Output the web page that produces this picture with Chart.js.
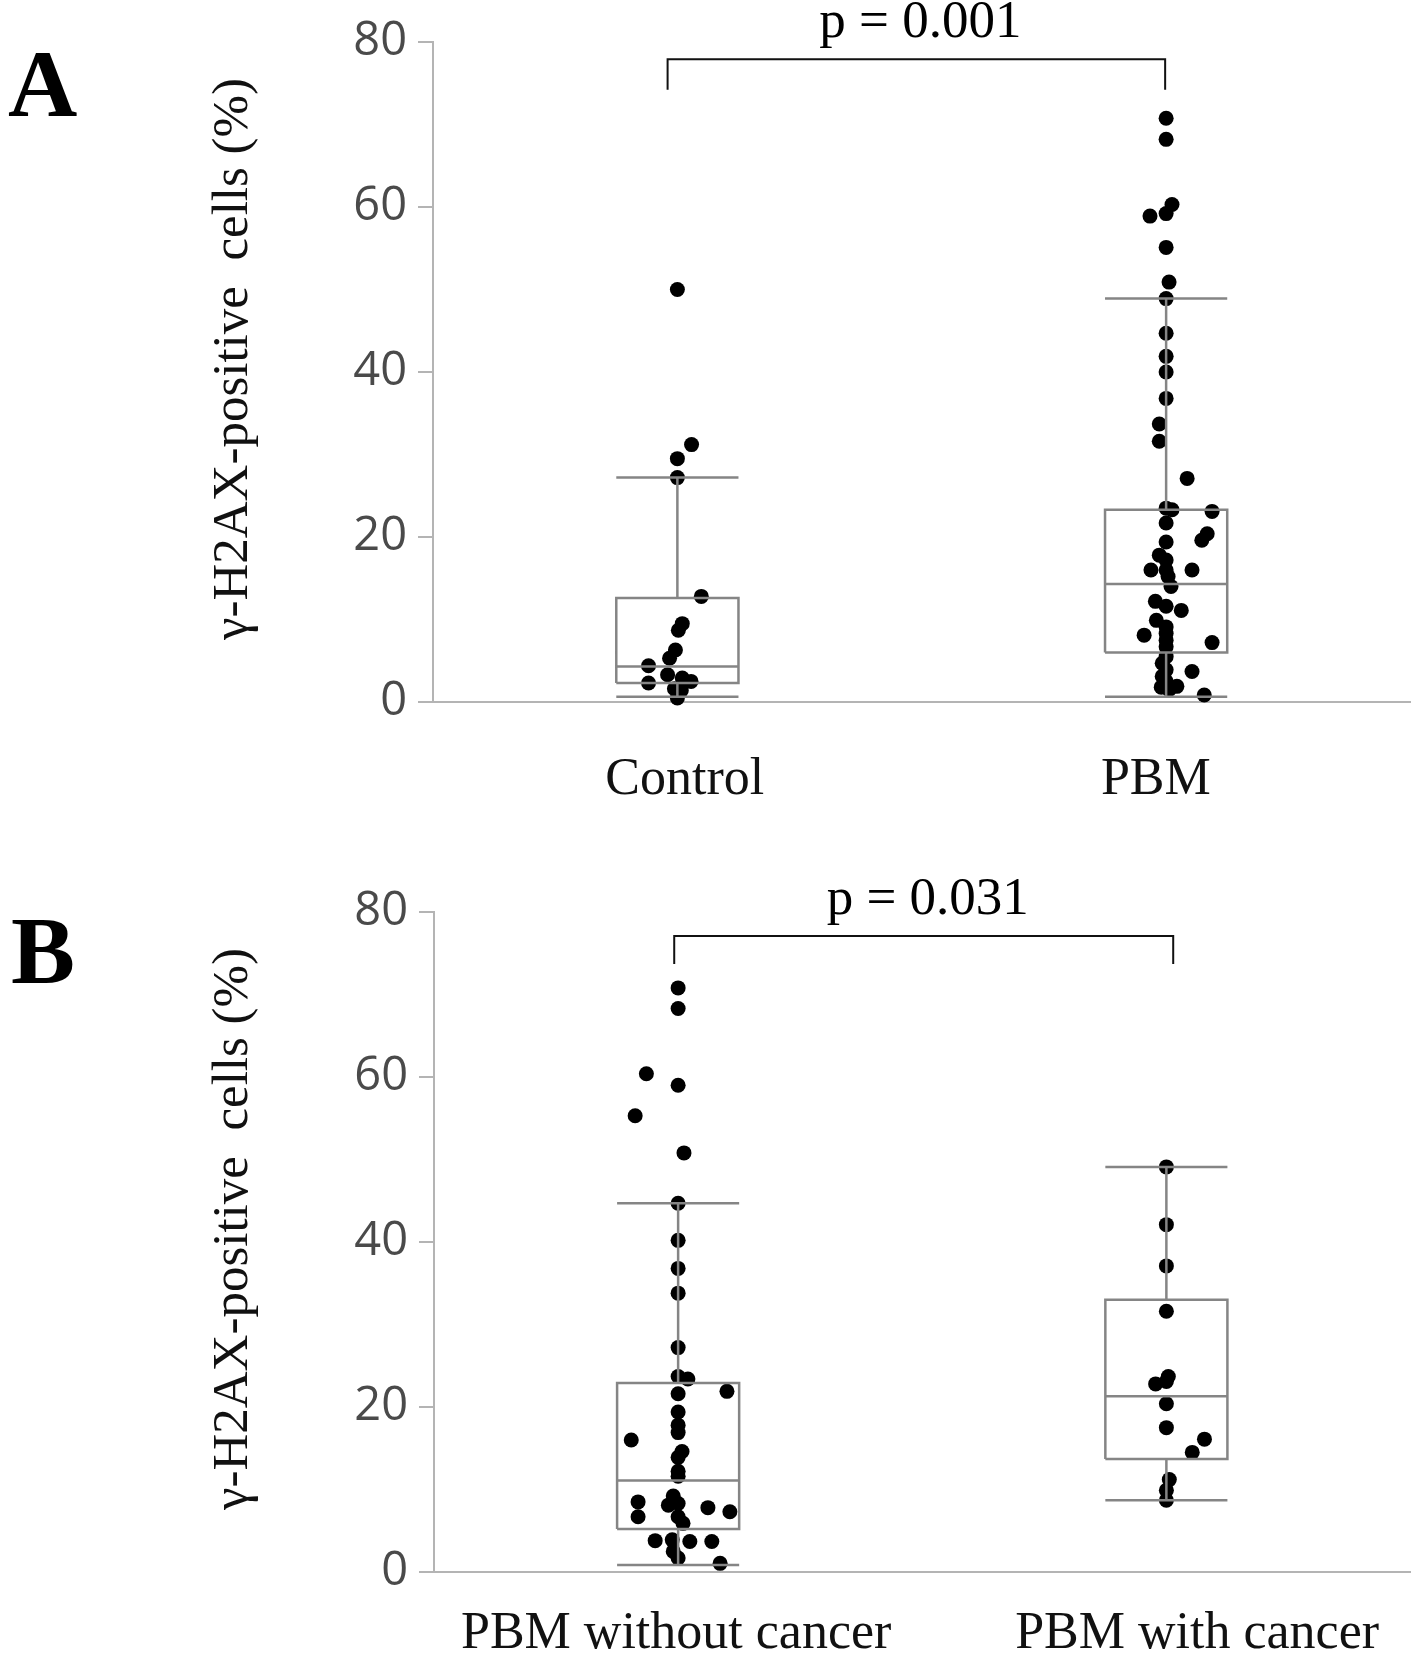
<!DOCTYPE html>
<html><head><meta charset="utf-8">
<script src="https://cdn.jsdelivr.net/npm/chart.js@4/dist/chart.umd.min.js"></script>
<style>
html,body{margin:0;padding:0;background:#fff;}
canvas{display:block;}
</style></head>
<body>
<canvas id="cA" width="1418" height="826"></canvas>
<canvas id="cB" width="1418" height="827"></canvas>
<script>
// ---------- data ----------
const yTitle = 'γ-H2AX-positive  cells (%)';
const yMin = 0, yMax = 80, yStep = 20;

// Panel A
const categoriesA = ['Control', 'PBM'];
const labelCentersA = [0.515, 1.479];
const controlValues = [50.0, 31.2, 29.5, 27.2, 12.8, 9.5, 8.7, 6.3, 5.3, 4.4, 3.3, 2.9, 2.5, 2.3, 1.6, 1.4, 0.5];
const controlJitter = [0, 0.029, 0, 0, 0.049, 0.01, 0.002, -0.004, -0.016, -0.059, -0.02, 0.01, 0.028, -0.059, -0.006, 0.008, 0];
const pbmValues = [70.75, 68.2, 60.3, 59.2, 58.9, 55.1, 50.9, 48.9, 44.7, 41.9, 40.0, 36.8, 33.7, 31.6, 27.1, 23.5, 23.3, 23.1, 21.7, 20.4, 19.6, 19.4, 17.8, 17.2, 16.0, 16.0, 16.0, 15.2, 14.0, 12.2, 11.6, 11.1, 9.9, 9.1, 8.3, 8.1, 7.5, 7.2, 6.7, 5.5, 4.7, 3.9, 3.7, 3.1, 2.5, 1.9, 1.8, 1.5, 0.85];
const pbmJitter = [0, 0, 0.012, 0, -0.033, 0, 0.006, 0, 0, 0, 0, 0, -0.014, -0.014, 0.043, 0, 0.012, 0.094, 0, 0.084, 0.073, 0, -0.014, 0, -0.031, 0.053, 0, 0.004, 0.01, -0.022, 0, 0.031, -0.02, 0, 0, -0.045, 0, 0.094, 0, 0, -0.008, 0, 0.053, -0.008, 0, 0.022, -0.01, 0.006, 0.078];
const whiskerLowA = [0.65, 0.65];
const q1A = [2.3, 6.0];
const medianA = [4.3, 14.3];
const q3A = [12.6, 23.3];
const whiskerHighA = [27.2, 48.9];
const pValueA = 'p = 0.001';
const bracketXA = [0.48, 1.498];
const bracketYA = [74.2, 77.9];

// Panel B
const categoriesB = ['PBM without cancer', 'PBM with cancer'];
const labelCentersB = [0.496, 1.563];
const withoutValues = [70.8, 68.3, 60.4, 59.0, 55.3, 50.8, 44.7, 40.2, 36.8, 33.8, 27.2, 23.7, 23.4, 21.9, 21.6, 19.4, 17.8, 16.9, 16.0, 14.6, 13.9, 12.2, 11.6, 9.2, 8.5, 8.3, 8.1, 7.8, 7.3, 6.7, 6.7, 5.9, 3.8, 3.9, 3.7, 3.7, 2.5, 1.7, 1.05];
const withoutJitter = [0, 0, -0.065, 0, -0.088, 0.012, 0, 0, 0, 0, 0, 0, 0.02, 0.1, 0, 0, 0, 0, -0.096, 0.008, 0, 0, 0, -0.01, -0.082, 0, -0.02, 0.061, 0.106, -0.082, 0, 0.01, -0.047, -0.012, 0.024, 0.069, -0.01, 0, 0.086];
const withValues = [49.1, 42.1, 37.1, 31.6, 23.7, 23.1, 22.8, 20.4, 17.5, 16.1, 14.5, 11.2, 9.9, 8.7];
const withJitter = [0, 0, 0, 0, 0.004, 0, -0.022, 0, 0, 0.078, 0.053, 0.006, 0, 0];
const whiskerLowB = [0.85, 8.7];
const q1B = [5.2, 13.7];
const medianB = [11.1, 21.3];
const q3B = [22.9, 33.0];
const whiskerHighB = [44.7, 49.1];
const pValueB = 'p = 0.031';
const bracketXB = [0.492, 1.514];
const bracketYB = [73.7, 77.1];

// ---------- helpers ----------
const BOX_HALF = 0.125;
function boxData(lo, q1, med, q3, hi) {
  const pts = [];
  for (let i = 0; i < q1.length; i++) {
    const c = i + 0.5, L = c - BOX_HALF, R = c + BOX_HALF;
    const gap = {x: c, y: null};
    pts.push({x: L, y: q1[i]}, {x: R, y: q1[i]}, {x: R, y: q3[i]}, {x: L, y: q3[i]}, {x: L, y: q1[i]}, gap);
    pts.push({x: L, y: med[i]}, {x: R, y: med[i]}, gap);
    pts.push({x: c, y: q3[i]}, {x: c, y: hi[i]}, gap);
    pts.push({x: L, y: hi[i]}, {x: R, y: hi[i]}, gap);
    pts.push({x: c, y: q1[i]}, {x: c, y: lo[i]}, gap);
    pts.push({x: L, y: lo[i]}, {x: R, y: lo[i]}, gap);
  }
  return pts;
}
function pointData(groups, jitters) {
  const pts = [];
  groups.forEach((vals, i) => vals.forEach((v, j) => pts.push({x: i + 0.5 + jitters[i][j], y: v})));
  return pts;
}
function bracketData(bx, by) {
  return [{x: bx[0], y: by[0]}, {x: bx[0], y: by[1]}, {x: bx[1], y: by[1]}, {x: bx[1], y: by[0]}];
}

const annotPlugin = {
  id: 'annot',
  afterDraw(chart, args, o) {
    const ctx = chart.ctx, xs = chart.scales.x, ys = chart.scales.y, ca = chart.chartArea;
    ctx.save();
    ctx.fillStyle = '#000';
    ctx.font = 'bold 96px "Liberation Serif"';
    ctx.textAlign = 'left'; ctx.textBaseline = 'alphabetic';
    ctx.fillText(o.letter, o.letterX, o.letterY);
    ctx.font = '53px "Liberation Serif"';
    ctx.textAlign = 'center';
    const cx = (xs.getPixelForValue(o.bx[0]) + xs.getPixelForValue(o.bx[1])) / 2;
    ctx.fillText(o.p, cx + 4, ys.getPixelForValue(o.by[1]) - 22);
    ctx.translate(o.titleX, (ca.top + ca.bottom) / 2 - 13);
    ctx.rotate(-Math.PI / 2);
    ctx.textBaseline = 'middle';
    ctx.font = '51px "Liberation Serif"';
    ctx.fillStyle = '#111';
    ctx.fillText(yTitle, 0, 0);
    ctx.restore();
  }
};

function makeChart(id, cats, labelCenters, groups, jitters, lo, q1, med, q3, hi, p, bx, by, lay) {
  return new Chart(document.getElementById(id), {
    type: 'scatter',
    data: {
      datasets: [
        {type: 'line', data: bracketData(bx, by), borderColor: '#111', borderWidth: 2, pointRadius: 0, fill: false, order: 0, clip: false},
        {type: 'line', data: boxData(lo, q1, med, q3, hi), borderColor: '#858585', borderWidth: 2.5, pointRadius: 0, fill: false, spanGaps: false, order: 1, clip: false},
        {type: 'scatter', data: pointData(groups, jitters), backgroundColor: '#000', borderColor: '#000', borderWidth: 0, pointRadius: 7.5, order: 2, clip: false}
      ]
    },
    options: {
      responsive: false, animation: false, devicePixelRatio: 1,
      layout: {padding: {top: lay.top, right: 5, left: 0, bottom: 0}},
      plugins: {legend: {display: false}, tooltip: {enabled: false},
        annot: {letter: lay.letter, letterX: lay.letterX, letterY: lay.letterY, p: p, bx: bx, by: by, titleX: 234}},
      scales: {
        x: {
          type: 'linear', min: 0, max: cats.length,
          afterBuildTicks: s => { s.ticks = labelCenters.map(v => ({value: v})); },
          afterFit: s => { s.height = lay.xHeight; },
          grid: {display: false, drawTicks: false},
          border: {display: true, color: '#b4b4b4', width: 2},
          ticks: {autoSkip: false, maxRotation: 0, padding: lay.xPad, color: '#111',
            font: {family: '"Liberation Serif"', size: 52},
            callback: (v, i) => cats[i]}
        },
        y: {
          min: yMin, max: yMax,
          afterFit: s => { s.width = lay.yWidth; },
          grid: {display: true, drawOnChartArea: false, drawTicks: true, tickLength: 15, color: '#b4b4b4', lineWidth: 2},
          border: {display: true, color: '#b4b4b4', width: 2},
          ticks: {stepSize: yStep, padding: 11, color: '#4a4a4a', font: {family: '"Open Sans"', size: 47}}
        }
      }
    },
    plugins: [annotPlugin]
  });
}

makeChart('cA', categoriesA, labelCentersA, [controlValues, pbmValues], [controlJitter, pbmJitter],
  whiskerLowA, q1A, medianA, q3A, whiskerHighA, pValueA, bracketXA, bracketYA,
  {top: 42, yWidth: 433, xHeight: 124, xPad: 47, letter: 'A', letterX: 8, letterY: 116});
makeChart('cB', categoriesB, labelCentersB, [withoutValues, withValues], [withoutJitter, withJitter],
  whiskerLowB, q1B, medianB, q3B, whiskerHighB, pValueB, bracketXB, bracketYB,
  {top: 86, yWidth: 434, xHeight: 81, xPad: 31, letter: 'B', letterX: 11, letterY: 157});
</script></body></html>
